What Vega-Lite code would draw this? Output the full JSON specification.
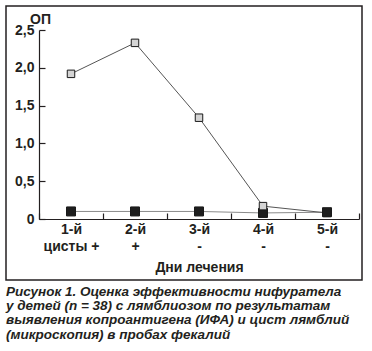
{
  "$schema": "https://vega.github.io/schema/vega-lite/v6.json",
  "width": 356,
  "height": 274,
  "autosize": {"type": "none"},
  "padding": {"left": 6, "top": 6, "right": 10, "bottom": 71},
  "config": {
    "view": {"stroke": "#231f20", "strokeWidth": 1.5},
    "font": "Liberation Sans"
  },
  "title": {
    "text": [
      "Рисунок 1. Оценка эффективности нифуратела",
      "у детей (n = 38) с лямблиозом по результатам",
      "выявления копроантигена (ИФА) и цист лямблий",
      "(микроскопия) в пробах фекалий"
    ],
    "orient": "bottom",
    "anchor": "start",
    "frame": "group",
    "font": "Liberation Sans",
    "fontSize": 13.5,
    "fontWeight": "bold",
    "fontStyle": "italic",
    "color": "#231f20",
    "lineHeight": 14.2,
    "baseline": "top",
    "offset": 5
  },
  "data": {
    "values": [
      {"day": "1-й", "series": "цисты", "value": 0.10},
      {"day": "2-й", "series": "цисты", "value": 0.10},
      {"day": "3-й", "series": "цисты", "value": 0.10},
      {"day": "4-й", "series": "цисты", "value": 0.08},
      {"day": "1-й", "series": "ИФА", "value": 1.92},
      {"day": "2-й", "series": "ИФА", "value": 2.33},
      {"day": "3-й", "series": "ИФА", "value": 1.34},
      {"day": "4-й", "series": "ИФА", "value": 0.17},
      {"day": "5-й", "series": "ИФА", "value": 0.08},
      {"day": "5-й", "series": "цисты", "value": 0.09}
    ]
  },
  "encoding": {
    "x": {
      "field": "day",
      "type": "nominal",
      "sort": ["1-й", "2-й", "3-й", "4-й", "5-й"],
      "scale": {"type": "band", "range": [33, 353], "paddingInner": 0, "paddingOuter": 0},
      "axis": {
        "title": "Дни лечения",
        "offset": -61,
        "tickBand": "extent",
        "tickSize": -6,
        "labelPadding": 9,
        "labelAngle": 0,
        "labelFont": "Liberation Sans",
        "labelFontSize": 14,
        "labelFontWeight": "bold",
        "labelColor": "#231f20",
        "labelLineHeight": 17,
        "labelExpr": "datum.value == '1-й' ? [datum.label, 'цисты +'] : datum.value == '2-й' ? [datum.label, '+'] : (datum.value == '3-й' || datum.value == '4-й' || datum.value == '5-й') ? [datum.label, '-'] : ''",
        "titleFont": "Liberation Sans",
        "titleFontSize": 14,
        "titleFontWeight": "bold",
        "titleColor": "#231f20",
        "titlePadding": 7,
        "domainColor": "#231f20",
        "domainWidth": 1.2,
        "tickColor": "#231f20",
        "tickWidth": 1.2
      }
    },
    "y": {
      "field": "value",
      "type": "quantitative",
      "scale": {"domain": [0, 2.5], "range": [213, 24], "nice": false, "zero": true},
      "axis": {
        "title": "ОП",
        "titleAngle": 0,
        "titleX": 1,
        "titleY": 13,
        "titleAlign": "center",
        "titleBaseline": "middle",
        "titleFont": "Liberation Sans",
        "titleFontSize": 14,
        "titleFontWeight": "bold",
        "titleColor": "#231f20",
        "offset": -33,
        "values": [0, 0.5, 1, 1.5, 2, 2.5],
        "tickSize": -6,
        "labelPadding": 11,
        "labelFont": "Liberation Sans",
        "labelFontSize": 14,
        "labelFontWeight": "bold",
        "labelColor": "#231f20",
        "labelExpr": "datum.value == 0 ? '0' : replace(format(datum.value, '.1f'), '.', ',')",
        "grid": false,
        "domainColor": "#231f20",
        "domainWidth": 1.2,
        "tickColor": "#231f20",
        "tickWidth": 1.2
      }
    }
  },
  "layer": [
    {
      "mark": {"type": "line", "strokeWidth": 1},
      "encoding": {
        "color": {
          "field": "series",
          "type": "nominal",
          "scale": {"domain": ["ИФА", "цисты"], "range": ["#555555", "#8a8a8a"]},
          "legend": null
        },
        "strokeWidth": {
          "field": "series",
          "type": "nominal",
          "scale": {"domain": ["ИФА", "цисты"], "range": [1, 1.6]},
          "legend": null
        }
      }
    },
    {
      "mark": {"type": "point", "shape": "square", "filled": true, "stroke": "#1a1a1a", "strokeWidth": 1, "opacity": 1},
      "encoding": {
        "fill": {
          "field": "series",
          "type": "nominal",
          "scale": {"domain": ["ИФА", "цисты"], "range": ["#d4d4d4", "#1e1e1e"]},
          "legend": null
        },
        "size": {
          "field": "series",
          "type": "nominal",
          "scale": {"domain": ["ИФА", "цисты"], "range": [56, 81]},
          "legend": null
        }
      }
    }
  ]
}
